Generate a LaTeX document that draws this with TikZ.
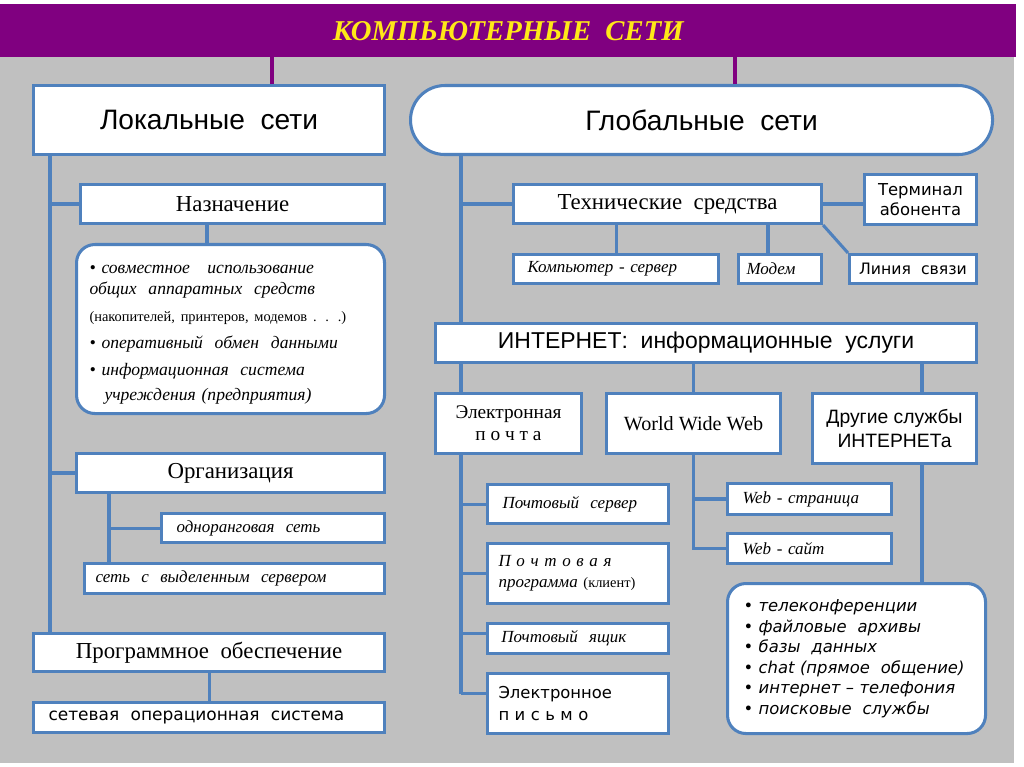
\documentclass[tikz,border=0pt]{standalone}
\usepackage{fontspec}
\setmainfont{Liberation Serif}
\newfontfamily\arialfont{Liberation Sans}
\newfontfamily\gothfont{DejaVu Sans}[ItalicFont={DejaVu Sans Oblique}]
\usetikzlibrary{positioning}
\definecolor{netblue}{RGB}{79,129,189}
\definecolor{netgrey}{RGB}{192,192,192}
\definecolor{netpurple}{RGB}{128,0,128}
\definecolor{netyellow}{RGB}{255,232,24}
\newcommand*{\fsz}[2]{\fontsize{#1}{#2}\selectfont}

\begin{document}
\begin{tikzpicture}[
        x=0.03cm, y=-0.03cm,
        box/.style={draw=netblue, line width=2.6pt, fill=white, inner sep=0pt, anchor=north west},
        sz/.style 2 args={minimum width=#1cm, minimum height=#2cm},
        rbox/.style={box, rounded corners=0.55cm},
        lbox/.style={box, text width=#1, align=left},
        cbox/.style={box, align=center},
        link/.style={draw=netblue, line width=2.6pt},
        tlink/.style={draw=netpurple, line width=2.6pt},
        head/.style={font=\arialfont\fsz{24}{28}},
        sub/.style={font=\fsz{19.5}{23}},
        cur/.style={font=\itshape\fsz{14.5}{17}},
        goth/.style={font=\gothfont\fsz{14}{17}},
        ]
        \fill[white] (0,0) rectangle (1024,767);
        \fill[netgrey] (0,57) rectangle (1014,763);
        \useasboundingbox (0,0) rectangle (1024,767);

        \node[fill=netpurple, inner sep=0pt, anchor=north west, sz={30.48}{1.59}, text=netyellow,
              font=\bfseries\itshape\fsz{24.5}{28}] (title) at (0,4) {КОМПЬЮТЕРНЫЕ~ СЕТИ};

        \node[box, sz={10.53}{2.07}, head] (loc) at (32,84) {Локальные~ сети};
        \node[box, sz={17.46}{2.07}, head, rounded corners=1.03cm] (glob) at (409,84) {Глобальные~ сети};

        \node[box, sz={9.12}{1.17}, sub] (loc_aim) at (79,183) {Назначение};
        \node[rbox, sz={9.24}{5.07}, lbox=8.46cm, font=\itshape\fsz{15}{23}] (loc_use) at (75,243)
             {\rule{0pt}{17pt}• совместное~~ использование\\[-5pt]
              общих~ аппаратных~ средств\\
              {\upshape\fsz{12.3}{14}(накопителей, принтеров, модемов . . .)}\\
              • оперативный~ обмен~ данными\\
              • информационная~ система\\[-1pt]
              \hspace*{0.45cm}учреждения (предприятия)};
        \node[box, sz={9.24}{1.17}, sub] (loc_org) at (75,452) {Организация};
        \node[lbox=5.79cm, sz={6.69}{0.87}, cur] (org_peer) at (160,512) {одноранговая~ сеть};
        \node[lbox=8.34cm, sz={9.0}{0.9}, cur] (org_srv) at (83,562) {сеть~ с~ выделенным~ сервером};
        \node[box, sz={10.53}{1.14}, sub] (loc_soft) at (32,632) {Программное~ обеспечение};
        \node[lbox=9.63cm, sz={10.53}{0.9}, goth, font=\gothfont\fsz{14.5}{17}] (soft_os) at (32,701)
             {сетевая~ операционная~ система};

        \node[box, sz={9.24}{1.17}, sub] (glob_tech) at (512,183) {Технические~ средства};
        \node[cbox, sz={3.36}{1.5}, goth] (tech_term) at (863,173) {Терминал\\абонента};
        \node[lbox=5.31cm, sz={6.15}{0.87}, cur] (tech_pc) at (512,253) {Компьютер - сервер};
        \node[lbox=2.01cm, sz={2.49}{0.87}, cur] (tech_modem) at (737,253) {Модем};
        \node[box, sz={3.81}{0.87}, goth, font=\gothfont\fsz{13.4}{16}] (tech_line) at (848,253) {Линия~ связи};

        \node[box, sz={16.23}{1.17}, font=\arialfont\fsz{19.6}{23}] (glob_inet) at (434,322)
             {ИНТЕРНЕТ:~ информационные~ услуги};
        \node[cbox, sz={4.38}{1.8}, font=\fsz{16.5}{19}] (inet_mail) at (434,392) {Электронная\\п о ч т а};
        \node[box, sz={5.22}{1.8}, font=\fsz{17.2}{20}] (inet_www) at (605,392) {World Wide Web};
        \node[cbox, sz={4.92}{2.1}, font=\arialfont\fsz{16.5}{21}] (inet_other) at (811,392)
             {Другие службы\\ИНТЕРНЕТа};

        \node[lbox=4.53cm, sz={5.43}{1.17}, cur] (mail_srv) at (486,483) {Почтовый~ сервер};
        \node[lbox=4.77cm, sz={5.43}{1.8}, font=\itshape\fsz{14.5}{18}] (mail_prog) at (486,542)
             {П о ч т о в а я\\программа {\upshape\fsz{12.3}{14}(клиент)}};
        \node[lbox=4.6cm, sz={5.43}{0.9}, cur] (mail_box) at (486,622) {Почтовый~ ящик};
        \node[lbox=4.77cm, sz={5.43}{1.8}, font=\gothfont\fsz{14}{18}] (mail_letter) at (486,672)
             {Электронное\\п и с ь м о};
        \node[lbox=4.02cm, sz={4.92}{0.93}, cur] (www_page) at (726,482) {Web - страница};
        \node[lbox=4.02cm, sz={4.92}{0.9}, cur] (www_site) at (726,532) {Web - сайт};
        \node[rbox, lbox=6.78cm, sz={7.74}{4.5}, font=\gothfont\itshape\fsz{14}{17.5}] (other_list) at (726,582)
             {• телеконференции\\
              • файловые~ архивы\\
              • базы~ данных\\
              • chat (прямое~ общение)\\
              • интернет – телефония\\
              • поисковые~ службы};

        \coordinate (t_l) at (272,0);
        \coordinate (t_r) at (735,0);
        \coordinate (l_trunk) at (50,0);
        \coordinate (l_aim) at (207,0);
        \coordinate (l_org) at (109,0);
        \coordinate (r_trunk) at (461,0);
        \coordinate (r_modem) at (768,0);
        \coordinate (r_other) at (922,0);
        \coordinate (m_box) at ([yshift=0.15cm]mail_box.west);
        \coordinate (m_let) at ([yshift=0.3cm]mail_letter.west);

        \path[tlink] (title.south -| t_l) edge (loc.north -| t_l)
        (title.south -| t_r) edge (glob.north -| t_r);

        \path[link] (loc.south -| l_trunk) edge (loc_soft.north -| l_trunk)
        (l_trunk |- loc_aim.west) edge (loc_aim.west)
        (l_trunk |- loc_org.west) edge (loc_org.west)
        (loc_aim.south -| l_aim) edge (loc_use.north -| l_aim)
        (loc_org.south -| l_org) edge (org_srv.north -| l_org)
        (l_org |- org_peer.west) edge (org_peer.west)
        (loc_soft.south) edge (soft_os.north);

        \path[link] (glob.south -| r_trunk) edge (glob_inet.north -| r_trunk)
        (r_trunk |- glob_tech.west) edge (glob_tech.west)
        (glob_tech.east) edge (tech_term.west |- glob_tech.east)
        (glob_tech.south east) edge (tech_line.north west)
        (glob_tech.south -| tech_pc.north) edge (tech_pc.north)
        (glob_tech.south -| r_modem) edge (tech_modem.north -| r_modem)
        (glob_inet.south -| r_trunk) edge (inet_mail.north -| r_trunk)
        (glob_inet.south -| inet_www.north) edge (inet_www.north)
        (glob_inet.south -| r_other) edge (inet_other.north -| r_other)
        (inet_mail.south -| r_trunk) edge (r_trunk |- m_let)
        (r_trunk |- mail_srv.west) edge (mail_srv.west)
        (r_trunk |- mail_prog.west) edge (mail_prog.west)
        (r_trunk |- m_box) edge (m_box)
        (r_trunk |- m_let) edge (m_let)
        (inet_www.south |- www_page.west) edge (www_page.west)
        (inet_other.south -| r_other) edge (other_list.north -| r_other);
        \draw[link] (inet_www.south) |- (www_site.west);
      \end{tikzpicture}
\end{document}
